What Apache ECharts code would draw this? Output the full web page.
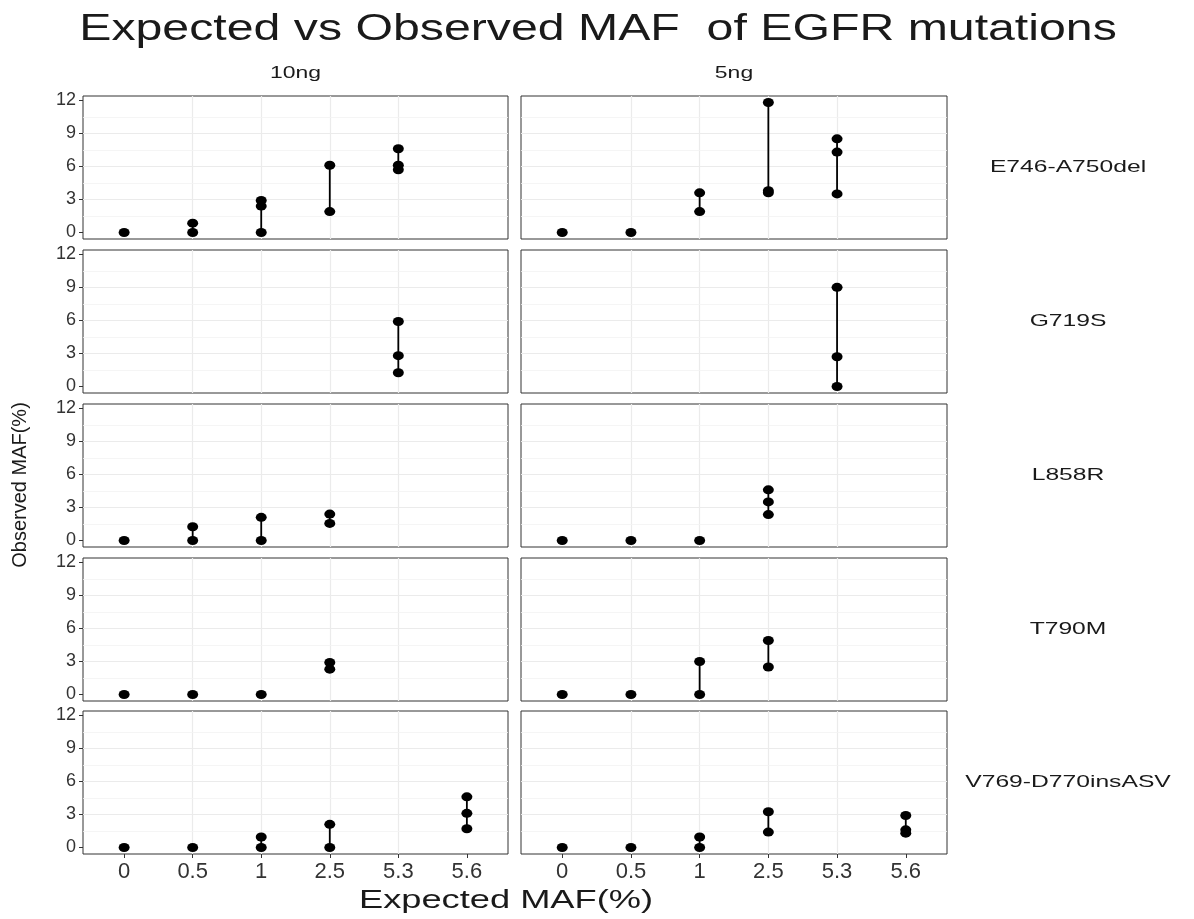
<!DOCTYPE html>
<html>
<head>
<meta charset="utf-8"/>
<style>
    html, body { margin: 0; padding: 0; background: #fff; }
    #main { width: 1194px; height: 919px; }
</style>
</head>
<body>
<div id="main"></div>
<script src="https://cdn.jsdelivr.net/npm/echarts@6/dist/echarts.min.js"></script>
<script>
var xCats = ['0', '0.5', '1', '2.5', '5.3', '5.6'];
var doses = ['10ng', '5ng'];
var mutations = ['E746-A750del', 'G719S', 'L858R', 'T790M', 'V769-D770insASV'];
var yBreaks = [0, 3, 6, 9, 12];
var yMinorBreaks = [1.5, 4.5, 7.5, 10.5];

// [expected MAF, observed MAF]
var e746_10ng = [['0', 0], ['0.5', 0.85], ['0.5', 0], ['1', 2.9], ['1', 2.4], ['1', 0], ['2.5', 6.1], ['2.5', 1.9], ['5.3', 7.6], ['5.3', 6.1], ['5.3', 5.7]];
var e746_5ng = [['0', 0], ['0.5', 0], ['1', 3.6], ['1', 1.9], ['2.5', 11.8], ['2.5', 3.8], ['2.5', 3.6], ['5.3', 8.5], ['5.3', 7.3], ['5.3', 3.5]];
var g719s_10ng = [['5.3', 5.9], ['5.3', 2.8], ['5.3', 1.25]];
var g719s_5ng = [['5.3', 9.0], ['5.3', 2.7], ['5.3', 0]];
var l858r_10ng = [['0', 0], ['0.5', 1.25], ['0.5', 0], ['1', 2.1], ['1', 0], ['2.5', 2.4], ['2.5', 1.55]];
var l858r_5ng = [['0', 0], ['0.5', 0], ['1', 0], ['2.5', 4.6], ['2.5', 3.5], ['2.5', 2.35]];
var t790m_10ng = [['0', 0], ['0.5', 0], ['1', 0], ['2.5', 2.9], ['2.5', 2.3]];
var t790m_5ng = [['0', 0], ['0.5', 0], ['1', 3.0], ['1', 0], ['2.5', 4.9], ['2.5', 2.5]];
var v769_10ng = [['0', 0], ['0.5', 0], ['1', 0.95], ['1', 0], ['2.5', 2.1], ['2.5', 0], ['5.6', 4.6], ['5.6', 3.1], ['5.6', 1.7]];
var v769_5ng = [['0', 0], ['0.5', 0], ['1', 0.95], ['1', 0], ['2.5', 3.25], ['2.5', 1.4], ['5.6', 2.9], ['5.6', 1.6], ['5.6', 1.3]];

var panelData = [
    [e746_10ng, e746_5ng],
    [g719s_10ng, g719s_5ng],
    [l858r_10ng, l858r_5ng],
    [t790m_10ng, t790m_5ng],
    [v769_10ng, v769_5ng]
];

var colLeft = [83, 521];
var colWidth = [425, 426];
var rowTop = [96, 250, 404, 558, 711];
var rowHeight = 143;
var FONT = 'Liberation Sans, Arial, sans-serif';
var xIdx = xCats.map(function (c, i) { return i; });

var grids = [], xAxes = [], yAxes = [], series = [], graphics = [];

// vertical segments: one run per expected value, broken with '-'
function segments(points) {
    var out = [];
    xCats.forEach(function (c, i) {
        var vals = points.filter(function (p) { return p[0] === c; })
            .map(function (p) { return p[1]; })
            .sort(function (a, b) { return a - b; });
        if (vals.length < 2) return;
        vals.forEach(function (v) { out.push([i, v]); });
        out.push([i, '-']);
    });
    return out;
}

for (var r = 0; r < mutations.length; r++) {
    for (var c = 0; c < doses.length; c++) {
        var k = grids.length;
        var bottom = r === mutations.length - 1;
        var left = c === 0;
        grids.push({
            left: colLeft[c], top: rowTop[r], width: colWidth[c], height: rowHeight,
            show: true, backgroundColor: '#fff', borderColor: '#333', borderWidth: 1
        });
        xAxes.push({
            type: 'value', gridIndex: k, position: 'bottom', min: -0.6, max: 5.6, minInterval: 1, maxInterval: 1,
            axisLine: {show: false, onZero: false},
            axisTick: {show: bottom, customValues: xIdx, length: 4, lineStyle: {color: '#333'}},
            axisLabel: {
                show: bottom, customValues: xIdx, margin: 7, fontSize: 22, fontFamily: FONT, color: '#333',
                formatter: function (v) { return xCats[Math.round(v)]; }
            },
            splitLine: {show: true, showMinLine: false, showMaxLine: false, lineStyle: {color: '#ebebeb', width: 1.2}}
        });
        yAxes.push({
            type: 'value', gridIndex: k, position: 'left', min: -0.59, max: 12.39, minInterval: 3, maxInterval: 3,
            axisLine: {show: false, onZero: false},
            axisTick: {show: left, customValues: yBreaks, length: 4, lineStyle: {color: '#333'}},
            axisLabel: {show: left, customValues: yBreaks, margin: 7, fontSize: 18, fontFamily: FONT, color: '#333'},
            splitLine: {show: true, showMinLine: false, showMaxLine: false, lineStyle: {color: '#ebebeb', width: 1.2}}
        });
        var pts = panelData[r][c];
        series.push({
            type: 'line', xAxisIndex: k, yAxisIndex: k,
            data: segments(pts), symbol: 'none', connectNulls: false,
            lineStyle: {color: '#000', width: 1.8}, silent: true,
            markLine: {
                silent: true, symbol: 'none', z: 1, label: {show: false},
                lineStyle: {color: '#f2f2f2', width: 0.8, type: 'solid'},
                data: yMinorBreaks.map(function (v) { return {yAxis: v}; })
            }
        });
        series.push({
            type: 'scatter', xAxisIndex: k, yAxisIndex: k,
            data: pts.map(function (p) { return [xCats.indexOf(p[0]), p[1]]; }),
            symbol: 'circle', symbolSize: [11, 9], itemStyle: {color: '#000', opacity: 1}, silent: true
        });
    }
}

function label(text, x, y, size, sx, rot) {
    return {
        type: 'text', x: x, y: y, scaleX: sx || 1, rotation: rot || 0,
        style: {text: text, fontSize: size, fontFamily: FONT, fill: '#1a1a1a', align: 'center', verticalAlign: 'middle'}
    };
}

graphics.push(label('Expected vs Observed MAF  of EGFR mutations', 598, 30, 36, 1.34));
doses.forEach(function (d, i) {
    graphics.push(label(d, colLeft[i] + colWidth[i] / 2, 73, 17, 1.35));
});
mutations.forEach(function (m, i) {
    graphics.push(label(m, 1068, rowTop[i] + rowHeight / 2, 17, 1.45));
});
graphics.push(label('Expected MAF(%)', 506, 901, 25, 1.45));
graphics.push(label('Observed MAF(%)', 20, 485, 20, 1, Math.PI / 2));

var chart = echarts.init(document.getElementById('main'));
chart.setOption({
    animation: false,
    backgroundColor: '#fff',
    grid: grids,
    xAxis: xAxes,
    yAxis: yAxes,
    series: series,
    graphic: graphics
});
</script>
</body>
</html>
